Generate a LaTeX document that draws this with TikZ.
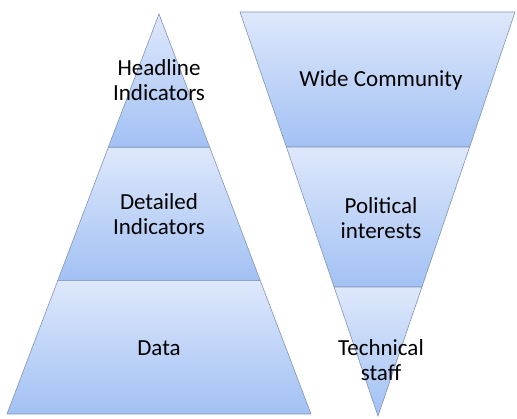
\documentclass[tikz,border=0pt]{standalone}
\usepackage{fontspec}
\setmainfont{Carlito}
\usetikzlibrary{%
    backgrounds,
    calc,
    positioning
}
\definecolor{bandtop}{RGB}{222,232,251}
\definecolor{bandbot}{RGB}{162,193,244}
\definecolor{bandline}{RGB}{128,148,184}
\tikzset{band/.style = {draw=bandline, line width=.6pt,
                        top color=bandtop, bottom color=bandbot}}
\tikzset{tier/.style = {align=center, inner sep=0pt,
                        font=\fontsize{23}{24.5}\selectfont}}

\begin{document}
\begin{tikzpicture}[x=1pt, y=-1pt]
    \useasboundingbox (0,0) rectangle (517,419);

    % left pyramid, apex up
    \path[band] (159,14)     -- (209.7,147.3) -- (108.3,147.3) -- cycle;
    \path[band] (108.3,147.3) -- (209.7,147.3) -- (260.3,280.7) -- (57.7,280.7) -- cycle;
    \path[band] (57.7,280.7)  -- (260.3,280.7) -- (311,414)     -- (7,414)      -- cycle;

    % right pyramid, apex down
    \path[band] (240,12)     -- (515,12)     -- (469.6,147)   -- (286.4,147)  -- cycle;
    \path[band] (286.4,147)  -- (469.6,147)  -- (421.9,287)   -- (334.1,287)  -- cycle;
    \path[band] (334.1,287)  -- (421.9,287)  -- (378,416)     -- cycle;

    \node (headline)  [tier] at (159,80)  {Headline\\Indicators};
    \node (detailed)  [tier] at (159,214) {Detailed\\Indicators};
    \node (data)      [tier] at (159,348) {Data};

    \node (wide)      [tier] at (381,80)  {Wide Community};
    \node (political) [tier] at (381,218) {Political\\interests};
    \node (technical) [tier] at (381,360) {Technical\\staff};
\end{tikzpicture}
\end{document}
